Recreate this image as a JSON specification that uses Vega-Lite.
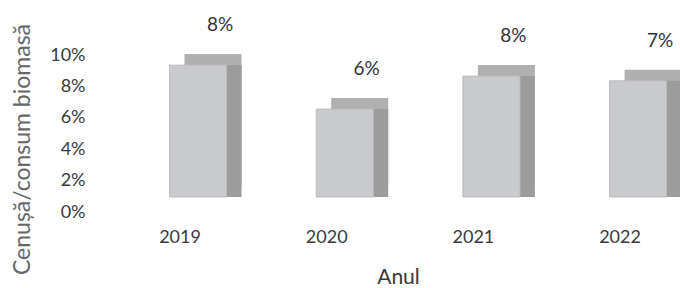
{
  "$schema": "https://vega.github.io/schema/vega-lite/v6.json",
  "autosize": "none",
  "width": 580,
  "height": 157,
  "padding": {"left": 100, "top": 55, "right": 0, "bottom": 76},
  "background": "white",
  "config": {"view": {"stroke": null}, "font": "Lato"},
  "data": {"values": [
    {"Anul": "2019", "value": 0.084},
    {"Anul": "2020", "value": 0.056},
    {"Anul": "2021", "value": 0.077},
    {"Anul": "2022", "value": 0.074}
  ]},
  "encoding": {
    "x": {
      "field": "Anul", "type": "nominal",
      "scale": {"paddingInner": 0.611, "paddingOuter": 0.2826, "align": 0.621},
      "axis": {
        "title": "Anul", "labelAngle": 0, "domain": false, "ticks": false,
        "labelFontSize": 18, "labelColor": "#3a3a3a", "labelPadding": 16,
        "titleFontSize": 21, "titleFontWeight": "normal", "titleColor": "#3a3a3a",
        "titlePadding": 20, "titleX": 298
      }
    },
    "y": {
      "field": "value", "type": "quantitative",
      "scale": {"domain": [0, 0.1], "nice": false},
      "axis": {
        "title": "Cenușă/consum biomasă", "format": ".0%",
        "values": [0, 0.02, 0.04, 0.06, 0.08, 0.1],
        "labelOverlap": false, "labelFlush": false, "labelBound": false,
        "domain": false, "ticks": false, "grid": false,
        "labelFontSize": 18, "labelColor": "#3a3a3a", "labelPadding": 15,
        "titleFontSize": 23, "titleFontWeight": "normal", "titleColor": "#666666",
        "titleX": -78, "titleY": 94, "titleBaseline": "middle"
      }
    }
  },
  "layer": [
    {"mark": {"type": "bar", "width": 57, "xOffset": 33, "yOffset": -26, "color": "#b0b0b0"}},
    {"mark": {"type": "bar", "width": 57, "xOffset": 33, "yOffset": -15, "color": "#9c9c9c"}},
    {"mark": {"type": "bar", "width": 57, "xOffset": 18, "yOffset": -15, "color": "#c9cacd", "stroke": "#bdbdbd", "strokeWidth": 1}},
    {"mark": {"type": "text", "xOffset": 40, "yOffset": -15, "dy": -40, "fontSize": 19, "color": "#333333"},
     "encoding": {"text": {"field": "value", "type": "quantitative", "format": ".0%"}}}
  ]
}
